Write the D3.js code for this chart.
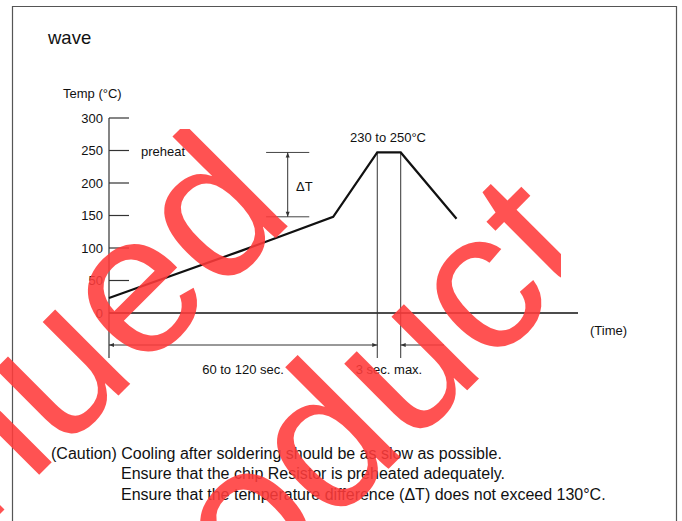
<!DOCTYPE html>
<html lang="en">
<head>
    <meta charset="UTF-8">
    <title>wave soldering profile</title>
    <script src="https://d3js.org/d3.v7.min.js"></script>
    <style>
        body {
            margin: 0;
            padding: 0;
            background: #fff;
            font-family: "Liberation Sans", Arial, sans-serif;
        }
        svg text {
            fill: #111;
        }
    </style>
</head>
<body>
    <div id="chart"></div>

    <script>
        // temperature axis ticks
        const tempTicks = [0, 50, 100, 150, 200, 250, 300];
        // profile points (time in relative units, temperature in °C)
        const profileTime = [0, 28.3, 47.8, 57.2, 62.2, 74.1];
        const profileTemp = [23, 96, 148, 247, 247, 145];
        // dimension / annotation texts
        const timeLabels = ['60 to 120 sec.', '3 sec. max.'];
        const cautionLines = [
            '(Caution) Cooling after soldering should be as slow as possible.',
            'Ensure that the chip Resistor is preheated adequately.',
            'Ensure that the temperature difference (\u0394T) does not exceed 130\u00b0C.'
        ];
        const watermark = ['Discontinued', 'Product'];

        const W = 682, H = 521;
        const svg = d3.select('#chart').append('svg')
            .attr('width', W).attr('height', H);

        const defs = svg.append('defs');
        // arrow heads
        defs.append('marker')
            .attr('id', 'arr')
            .attr('viewBox', '0 0 10 10')
            .attr('refX', 10).attr('refY', 5)
            .attr('markerWidth', 7).attr('markerHeight', 5)
            .attr('markerUnits', 'userSpaceOnUse')
            .attr('orient', 'auto-start-reverse')
            .append('path')
            .attr('d', 'M0,1 L10,5 L0,9 Z')
            .attr('fill', '#333');

        defs.append('clipPath').attr('id', 'wmclip')
            .append('rect').attr('x', 0).attr('y', 129).attr('width', 561).attr('height', 400);

        // page frame
        svg.append('path')
            .attr('d', `M12.5,${H} V6.5 H676.5 V${H}`)
            .attr('fill', 'none').attr('stroke', '#555').attr('stroke-width', 1.2);

        svg.append('text').attr('x', 48).attr('y', 44)
            .style('font-size', '18.5px').text('wave');

        // scales
        const x = d3.scaleLinear().domain([0, 100]).range([109, 578]);
        const y = d3.scaleLinear().domain([0, 300]).range([313, 118]);

        // y axis: ticks pointing right, labels on the left
        const yAxis = svg.append('g');
        yAxis.append('line')
            .attr('x1', x(0)).attr('x2', x(0))
            .attr('y1', y(300)).attr('y2', 358)
            .attr('stroke', '#333').attr('stroke-width', 1.2);
        yAxis.selectAll('.tk').data(tempTicks).enter().append('line')
            .attr('x1', x(0)).attr('x2', x(0) + 20)
            .attr('y1', d => y(d)).attr('y2', d => y(d))
            .attr('stroke', '#333').attr('stroke-width', 1.2);
        yAxis.selectAll('.lb').data(tempTicks).enter().append('text')
            .attr('x', 103).attr('y', d => y(d) + 4.7)
            .attr('text-anchor', 'end')
            .style('font-size', '13px')
            .text(d => d);

        svg.append('text').attr('x', 63).attr('y', 97.5)
            .style('font-size', '13px').text('Temp (\u00b0C)');

        // time axis
        svg.append('line')
            .attr('x1', x(0)).attr('x2', x(100))
            .attr('y1', y(0)).attr('y2', y(0))
            .attr('stroke', '#111').attr('stroke-width', 1.4);
        svg.append('text').attr('x', 590).attr('y', 335)
            .style('font-size', '13px').text('(Time)');

        // peak markers
        const peakStart = profileTime[3], peakEnd = profileTime[4];
        [peakStart, peakEnd].forEach(t => {
            svg.append('line')
                .attr('x1', x(t)).attr('x2', x(t))
                .attr('y1', y(profileTemp[3])).attr('y2', 358)
                .attr('stroke', '#333').attr('stroke-width', 1);
        });

        // delta T bracket
        const dtLeft = 33.5, dtRight = 42.7, dtMid = 38.1;
        [profileTemp[3], profileTemp[2]].forEach(v => {
            svg.append('line')
                .attr('x1', x(dtLeft)).attr('x2', x(dtRight))
                .attr('y1', y(v)).attr('y2', y(v))
                .attr('stroke', '#444').attr('stroke-width', 1);
        });
        svg.append('line')
            .attr('x1', x(dtMid)).attr('x2', x(dtMid))
            .attr('y1', y(profileTemp[3])).attr('y2', y(profileTemp[2]))
            .attr('stroke', '#333').attr('stroke-width', 1)
            .attr('marker-start', 'url(#arr)').attr('marker-end', 'url(#arr)');
        svg.append('text').attr('x', 296).attr('y', 190.5)
            .style('font-size', '13px').text('\u0394T');

        // dimension arrows under the axis
        const dimY = 345;
        svg.append('line')
            .attr('x1', x(0)).attr('x2', x(peakStart))
            .attr('y1', dimY).attr('y2', dimY)
            .attr('stroke', '#333').attr('stroke-width', 1)
            .attr('marker-start', 'url(#arr)').attr('marker-end', 'url(#arr)');
        svg.append('line')
            .attr('x1', x(71.4)).attr('x2', x(peakEnd))
            .attr('y1', dimY).attr('y2', dimY)
            .attr('stroke', '#333').attr('stroke-width', 1)
            .attr('marker-end', 'url(#arr)');
        svg.append('text').attr('x', 243).attr('y', 374)
            .attr('text-anchor', 'middle')
            .style('font-size', '13px').text(timeLabels[0]);
        svg.append('text').attr('x', 389).attr('y', 374)
            .attr('text-anchor', 'middle')
            .style('font-size', '13px').text(timeLabels[1]);

        // profile curve
        const pts = profileTime.map((t, i) => [t, profileTemp[i]]);
        svg.append('path')
            .datum(pts)
            .attr('d', d3.line().x(d => x(d[0])).y(d => y(d[1])))
            .attr('fill', 'none')
            .attr('stroke', '#111')
            .attr('stroke-width', 2.2)
            .attr('stroke-linejoin', 'miter');

        svg.append('text').attr('x', 141).attr('y', 155.5)
            .style('font-size', '13px').text('preheat');
        svg.append('text').attr('x', 388).attr('y', 141.5)
            .attr('text-anchor', 'middle')
            .style('font-size', '13px').text('230 to 250\u00b0C');

        // caution notes
        svg.selectAll('.ct').data(cautionLines).enter().append('text')
            .attr('x', (d, i) => i === 0 ? 51 : 121)
            .attr('y', (d, i) => 458.5 + i * 20.6)
            .style('font-size', '16px')
            .text(d => d);

        // red watermark; each line is pinned by one glyph point seen in the scan
        // (fx = fraction of the glyph advance, fy = height in em above baseline)
        const wmSize = 200, wmAngle = -45;
        const wmAnchor = [
            { idx: 11, fx: 0.874, fy: 0, at: [287, 227] },   // right foot of the last "d"
            { idx: 5, fx: 0.5, fy: 0.26, at: [487, 297] }     // middle of the "c"
        ];
        const wm = svg.append('g')
            .attr('clip-path', 'url(#wmclip)')
            .attr('opacity', 0.88);
        watermark.forEach((w, i) => {
            const t = wm.append('text')
                .style('font-size', wmSize + 'px')
                .style('fill', '#ff3b3b')
                .text(w);
            const node = t.node();
            const p = wmAnchor[i];
            const lx = node.getStartPositionOfChar(p.idx).x + node.getSubStringLength(p.idx, 1) * p.fx;
            const ly = -p.fy * wmSize;
            const a = wmAngle * Math.PI / 180;
            const rx = lx * Math.cos(a) - ly * Math.sin(a);
            const ry = lx * Math.sin(a) + ly * Math.cos(a);
            t.attr('transform', `translate(${p.at[0] - rx},${p.at[1] - ry}) rotate(${wmAngle})`);
        });
    </script>
</body>
</html>
